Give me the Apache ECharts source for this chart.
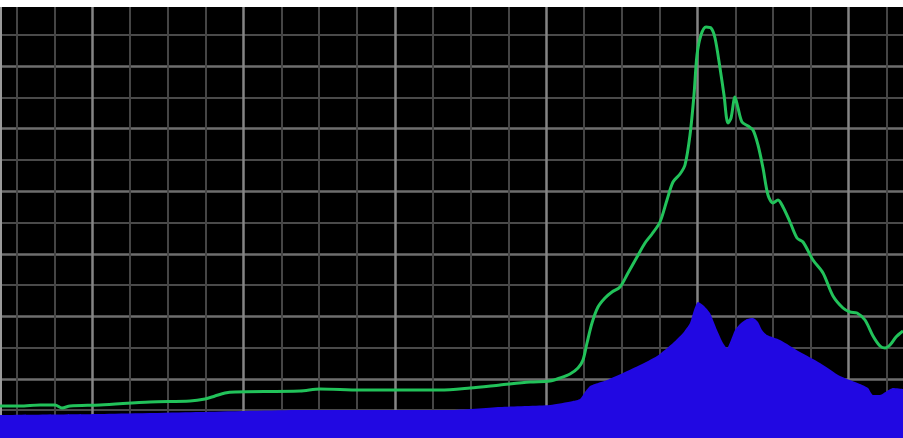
<!DOCTYPE html>
<html>
<head>
<meta charset="utf-8">
<script src="https://cdn.jsdelivr.net/npm/echarts@6/dist/echarts.min.js"></script>
<style>
  html, body { margin: 0; padding: 0; background: #fff; }
  /* visible screen area; the chart itself is larger so the graticule can run past the edges */
  #screen { position: absolute; left: 0; top: 7px; width: 903px; height: 431px; overflow: hidden; background: #000; }
  #chart { position: absolute; left: -59px; top: -66px; width: 1059px; height: 563px; }
</style>
</head>
<body>
<div id="screen"><div id="chart"></div></div>
<script>
// sweep positions (x) and levels (y)
var greenX = [0, 4, 8, 11, 12.4, 14, 20, 30, 38, 41, 43, 45, 47, 60, 64, 72, 84, 88, 94, 100,
  106, 110, 112, 114, 115.6, 116.6, 117.4, 118.4, 119.6, 121, 122.4, 124, 125.6, 127.4, 129,
  130.4, 132, 133.4, 134.6, 136, 137, 138, 138.8, 139.4, 140.2, 141.2, 142.2, 143, 144, 144.8,
  145.6, 146.2, 147, 147.6, 148.4, 149.6, 150.6, 151.6, 152.6, 153.6, 154.6, 155.6, 156.6, 158,
  159.4, 160.6, 162.6, 164.6, 166.6, 168.6, 170, 171.4, 173, 174.6, 176, 177, 178, 179.2, 180.6];
var greenY = [3.2, 3.2, 3.3, 3.3, 3.0, 3.2, 3.3, 3.6, 3.7, 3.9, 4.2, 4.5, 4.6, 4.7, 4.9, 4.8, 4.8, 4.8, 5.0, 5.3,
  5.6, 5.7, 6.0, 6.4, 7.0, 7.8, 9.5, 11.5, 13.1, 14.0, 14.6, 15.1, 16.5, 18.1, 19.5,
  20.4, 21.6, 23.8, 25.6, 26.4, 27.3, 30.3, 34.3, 38.3, 40.3, 41.1, 41.0, 40.0, 37.0, 34.3,
  31.5, 32.0, 34.1, 33.0, 31.6, 31.2, 30.8, 29.3, 27.0, 24.3, 23.5, 23.8, 23.1, 21.6,
  20.0, 19.6, 17.8, 16.5, 14.2, 13.0, 12.6, 12.5, 11.8, 10.2, 9.2, 9.0, 9.3, 10.1, 10.7];

var blueX = [0, 20, 40, 60, 90, 100, 110, 114.6, 116, 117, 118, 119, 121.4, 124.6, 128, 131.4,
  134.6, 136.6, 138, 138.8, 139.6, 140.6, 142, 143.4, 144.6, 145.4, 146.2, 147, 148, 149.4,
  150.6, 151.6, 152.4, 153.4, 156, 160, 164, 168, 172, 173.6, 174.6, 176, 177.4, 178.6, 180.6];
var blueY = [2.3, 2.4, 2.6, 2.8, 2.8, 3.1, 3.3, 3.7, 3.9, 4.6, 5.2, 5.4, 5.8, 6.5, 7.3, 8.2,
  9.5, 10.5, 11.5, 12.8, 13.6, 13.3, 12.5, 10.8, 9.5, 9.0, 9.8, 10.8, 11.4, 11.9,
  12.0, 11.6, 10.8, 10.3, 9.8, 8.6, 7.5, 6.2, 5.4, 5.0, 4.3, 4.3, 4.7, 5.0, 4.9];

var xMax = 180.6;
var yMax = 43.1;

function pairs(xs, ys) {
  return xs.map(function (x, i) { return [x, ys[i]]; });
}

var chart = echarts.init(document.getElementById('chart'));

var hidden = { show: false };
var option = {
  backgroundColor: '#000',
  animation: false,
  grid: [
    // graticule, fills the whole (oversized) chart
    { left: 0, right: 0, top: 0, bottom: 0 },
    // trace area = the visible screen
    { left: 59, right: 97, top: 66, bottom: 66 }
  ],
  xAxis: [
    {
      gridIndex: 0, type: 'value', min: 0, max: 28, interval: 4,
      axisLine: hidden, axisTick: hidden, axisLabel: hidden,
      splitLine: { show: true, lineStyle: { color: '#858585', width: 2.5 } },
      minorTick: { show: false, splitNumber: 4 },
      minorSplitLine: { show: true, lineStyle: { color: '#454545', width: 2 } }
    },
    {
      gridIndex: 1, type: 'value', min: 0, max: xMax,
      axisLine: hidden, axisTick: hidden, axisLabel: hidden, splitLine: hidden
    }
  ],
  yAxis: [
    {
      gridIndex: 0, type: 'value', min: 0, max: 18, interval: 2,
      axisLine: hidden, axisTick: hidden, axisLabel: hidden,
      splitLine: { show: true, lineStyle: { color: '#6e6e6e', width: 2.5 } },
      minorTick: { show: false, splitNumber: 2 },
      minorSplitLine: { show: true, lineStyle: { color: '#4a4a4a', width: 2 } }
    },
    {
      gridIndex: 1, type: 'value', min: 0, max: yMax,
      axisLine: { show: true, lineStyle: { color: '#9a9a9a', width: 3 } },
      axisTick: hidden, axisLabel: hidden, splitLine: hidden
    }
  ],
  series: [
    {
      type: 'line', xAxisIndex: 1, yAxisIndex: 1,
      data: pairs(blueX, blueY),
      showSymbol: false, smooth: 0.2,
      lineStyle: { width: 0 },
      areaStyle: { color: '#2108e2', opacity: 1 },
      z: 2
    },
    {
      type: 'line', xAxisIndex: 1, yAxisIndex: 1,
      data: pairs(greenX, greenY),
      showSymbol: false, smooth: 0.3,
      lineStyle: { color: '#22c25a', width: 3 },
      z: 3
    }
  ]
};

chart.setOption(option);
</script>
</body>
</html>
